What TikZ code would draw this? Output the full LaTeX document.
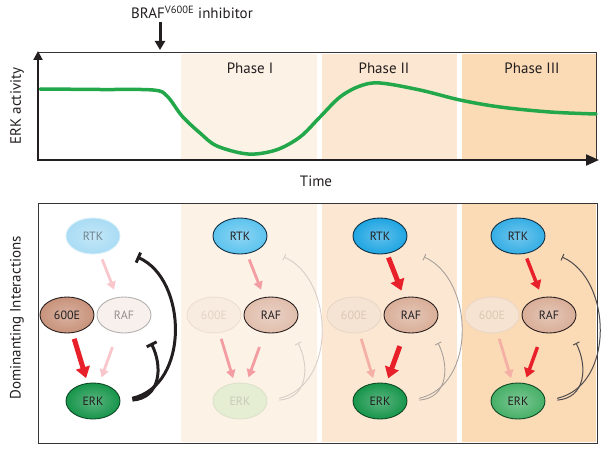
\documentclass[tikz,border=0pt]{standalone}
\usepackage{fontspec}
\setmainfont{PT Sans}
\usetikzlibrary{arrows.meta,shapes.geometric,calc}

\definecolor{phaseA}{HTML}{FDF2E6}
\definecolor{phaseB}{HTML}{FCE8D2}
\definecolor{phaseC}{HTML}{FBDAB6}
\definecolor{curvegreen}{HTML}{22A84A}
\definecolor{actred}{HTML}{E8202A}
\definecolor{inkgray}{HTML}{231F20}
\definecolor{rtkpale}{HTML}{A9DCF4}
\definecolor{rtkblue}{HTML}{5CC3EE}
\definecolor{rtkdeep}{HTML}{1EA5E2}
\definecolor{rtkline}{HTML}{123044}
\definecolor{sixebrown}{HTML}{C8927A}
\definecolor{sixefaint}{HTML}{F5E4D4}
\definecolor{sixeline}{HTML}{E8D6C6}
\definecolor{sixetext}{HTML}{DCC8B4}
\definecolor{rafpale}{HTML}{F8F0EC}
\definecolor{raftan}{HTML}{D9AE98}
\definecolor{rafline}{HTML}{2A2020}
\definecolor{erkgreen}{HTML}{16954A}
\definecolor{erklight}{HTML}{45AF66}
\definecolor{erkfaint}{HTML}{E5EDD2}
\definecolor{erkline}{HTML}{0E4A26}
\definecolor{pinkpale}{HTML}{F8C6CB}
\definecolor{pinkmid}{HTML}{F39CA2}
\definecolor{pinkpeach}{HTML}{F5B0A6}
\definecolor{arcpale}{HTML}{D9CEC6}
\definecolor{arcmid}{HTML}{A9A09B}

\begin{document}
\begin{tikzpicture}[x=1pt,y=-1pt]
\tikzset{lbl/.style={font=\fontsize{15}{17}\selectfont, text=inkgray},
  frame/.style={draw=inkgray!90, line width=1pt},
  axisline/.style={draw=inkgray, line width=2pt},
  mol/.style={ellipse, minimum width=54pt, minimum height=36pt, inner sep=0pt,
    line width=0.9pt, text=inkgray, font=\fontsize{12}{14}\selectfont},
  glossy/.style={inner color=#1!70!white, outer color=#1},
  % molecules, one style per panel
  rtk1/.style={mol, glossy=rtkpale, draw=rtkpale!50, text=rtkline!60},
  rtk2/.style={mol, glossy=rtkblue, draw=rtkline},
  rtk3/.style={mol, glossy=rtkdeep, draw=rtkline},
  rtk4/.style={mol, glossy=rtkdeep!90!white, draw=rtkline},
  sixe1/.style={mol, glossy=sixebrown, draw=rafline},
  sixe2/.style={mol, fill=sixefaint!70!white, draw=sixeline!80!white, text=sixetext!80!white},
  sixe3/.style={mol, fill=sixefaint, draw=sixeline, text=sixetext},
  sixe4/.style={mol, fill=sixefaint!90!phaseC, draw=sixeline!90!phaseC, text=sixetext},
  raf1/.style={mol, fill=rafpale, draw=rafline!35, text=rafline!50},
  raf2/.style={mol, glossy=raftan!80!white, draw=rafline},
  raf3/.style={mol, glossy=raftan, draw=rafline},
  raf4/.style={mol, glossy=raftan, draw=rafline},
  erk1/.style={mol, glossy=erkgreen, draw=erkline},
  erk2/.style={mol, fill=erkfaint, draw=erkfaint!90!gray, text=erkfaint!70!gray},
  erk3/.style={mol, glossy=erkgreen, draw=erkline},
  erk4/.style={mol, glossy=erklight, draw=erkline},
  % activation arrows
  bigact/.style={draw=actred, line width=5pt, -{Triangle[width=14pt,length=11pt]}},
  midact/.style={draw=actred, line width=3.5pt, -{Triangle[width=11pt,length=9pt]}},
  paleact/.style={draw=#1, line width=2.8pt, -{Triangle[width=9pt,length=8pt]}},
  up1/.style={paleact=pinkpale, shorten <=6pt, shorten >=8pt},
  left1/.style={bigact, shorten <=6pt, shorten >=5pt},
  right1/.style={paleact=pinkpale, shorten <=15pt, shorten >=6pt},
  up2/.style={paleact=pinkmid, shorten <=6pt, shorten >=8pt},
  left2/.style={paleact=pinkmid, shorten <=6pt, shorten >=5pt},
  right2/.style={paleact=pinkmid, shorten <=15pt, shorten >=6pt},
  up3/.style={bigact, shorten <=4pt, shorten >=7pt},
  left3/.style={paleact=pinkpeach, shorten <=6pt, shorten >=5pt},
  right3/.style={bigact, shorten <=14pt, shorten >=5pt},
  up4/.style={midact, shorten <=5pt, shorten >=8pt},
  left4/.style={paleact=pinkpeach, shorten <=6pt, shorten >=5pt},
  right4/.style={midact, shorten <=15pt, shorten >=6pt},
  % inhibition arcs
  inh1/.style={draw=inkgray, line width=3pt, shorten <=12pt, -{Bar[width=11pt]}},
  inh2/.style={draw=arcpale, line width=0.9pt, shorten <=12pt, -{Bar[width=7pt]}},
  inh3/.style={draw=arcmid, line width=0.9pt, shorten <=12pt, -{Bar[width=7pt]}},
  inh4/.style={draw=inkgray!80, line width=1pt, shorten <=12pt, -{Bar[width=7pt]}},
  drugarrow/.style={draw=inkgray, line width=3pt, -{Triangle[width=10pt,length=9pt]}}}

\useasboundingbox (0,0) rectangle (604,449);

% phase backgrounds
\foreach \a/\b/\c in {181/317/phaseA, 322/457/phaseB, 462/596/phaseC}{
  \fill[\c] (\a,54) rectangle (\b,159);
  \fill[\c] (\a,204) rectangle (\b,442);
}

% ERK activity plot
\draw[frame] (38,53) -- (596,53) -- (596,160);
\draw[curvegreen, line width=3.5pt, line cap=round]
  plot[smooth, tension=0.55] coordinates {(40,89) (100,89.5) (153,90) (167,96) (182,116)
  (200,133) (217,146) (248,154) (276,150) (300,137) (320,117) (340,97) (360,86) (380,83)
  (420,90) (460,100) (500,107) (550,112) (596,114)};
\draw[axisline, -{Triangle[width=9pt,length=9pt]}] (38,161) -- (38,51);
\draw[axisline, -{Triangle[width=11pt,length=13pt]}] (37,160) -- (599,160);

\foreach \x/\t in {250/Phase I, 384/Phase II, 532/Phase III}
  \node[lbl] (ph\x) at (\x,68) {\t};
\node[lbl, rotate=90] (ylabel) at (17,106) {ERK activity};
\node[lbl] (xlabel) at (316,181) {Time};
\node[lbl] (drug) at (192,12) {BRAF\textsuperscript{V600E} inhibitor};
\coordinate (hit) at (160,50);
\draw[drugarrow] (drug.south -| hit) -- (hit);

% interaction panels
\draw[frame] (38,203) rectangle (597,443);
\node[lbl, rotate=90] (dlabel) at (17,318) {Dominanting Interactions};

\foreach \p/\x in {1/93,2/240,3/380,4/518}{
  \node[rtk\p] (rtk\p) at (\x,236) {RTK};
  \node[sixe\p] (sixe\p) at (\x-26,315) {600E};
  \node[raf\p] (raf\p) at (\x+31,315) {RAF};
  \node[erk\p] (erk\p) at (\x,401) {ERK};
  \coordinate (rtkhit\p) at ($(erk\p)+(44,-144)$);
  \coordinate (rafhit\p) at ($(erk\p)+(58,-58)$);
  \draw[up\p] (rtk\p) -- (raf\p);
  \draw[left\p] (sixe\p) -- (erk\p);
  \draw[right\p] (raf\p) -- (erk\p);
  \draw[inh\p] (erk\p.east) .. controls +(70,-16) and +(50,22) .. (rtkhit\p);
  \draw[inh\p] (erk\p.east) .. controls +(40,-3) and +(12,24) .. (rafhit\p);
}
\end{tikzpicture}
\end{document}
